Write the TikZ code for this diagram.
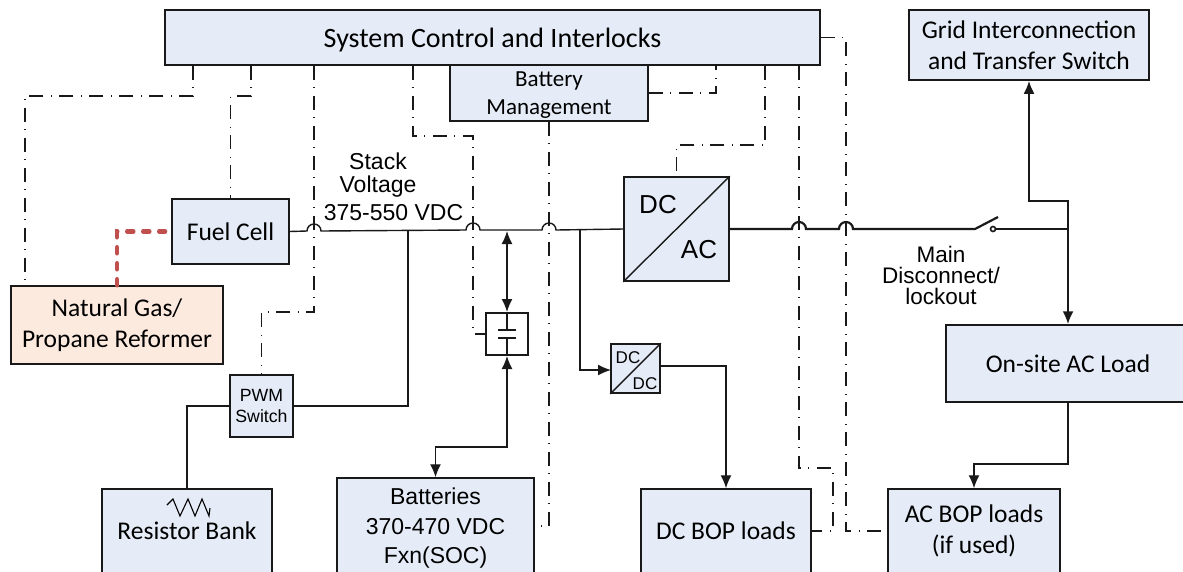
\documentclass[tikz,border=0pt]{standalone}
\usepackage{fontspec}
\setmainfont{Carlito}
\newfontfamily\arialfont{Liberation Sans}
\usetikzlibrary{arrows.meta}
\definecolor{boxblue}{HTML}{E5ECF7}
\definecolor{boxpeach}{HTML}{FCEADE}
\definecolor{gasred}{HTML}{C0504D}
\tikzset{
  block/.style={draw=black!90,line width=1.5pt,fill=boxblue,inner sep=0pt,align=center,font=\fontsize{25.5}{31}\selectfont},
  lbl/.style={inner sep=0pt,align=center,font=\arialfont\fontsize{23}{22.5}\selectfont},
  power/.style={line width=1.4pt,black!90},
  mainbus/.style={line width=2.2pt,black!90},
  ctrl/.style={line width=1.2pt,black!90,dash pattern=on 14pt off 7.5pt on 1pt off 7.5pt},
  gasline/.style={line width=4.5pt,gasred,line cap=round,dash pattern=on 6pt off 10pt},
  tip/.style={-{Latex[length=13pt,width=11pt]}},
  tips/.style={{Latex[length=13pt,width=11pt]}-{Latex[length=13pt,width=11pt]}}
}
\begin{document}
\begin{tikzpicture}[x=1pt,y=-1pt]
\useasboundingbox (0,0) rectangle (1183,571);
% blocks
\node[block,minimum width=655pt,minimum height=55pt,text depth=0pt,font=\fontsize{28}{30}\selectfont] (sys) at (492.5,37.5) {System Control and Interlocks};
\node[block,minimum width=240pt,minimum height=70pt] (grid) at (1029,45) {Grid Interconnection\\and Transfer Switch};
\node[block,minimum width=198pt,minimum height=56pt,text depth=0pt,font=\fontsize{23}{28}\selectfont] (bm) at (549,93) {Battery\\Management};
\node[block,minimum width=117pt,minimum height=65pt] (fuel) at (230.5,231.5) {Fuel Cell};
\node[block,fill=boxpeach,minimum width=212pt,minimum height=78pt] (reformer) at (117,325) {Natural Gas/\\Propane Reformer};
\node[block,minimum width=63pt,minimum height=62pt,font=\arialfont\fontsize{17.7}{21}\selectfont] (pwm) at (261.5,406) {PWM\\Switch};
\node[block,minimum width=170pt,minimum height=84pt] (resistor) at (187,531) {Resistor Bank};
\node[block,minimum width=197pt,minimum height=96pt,text depth=0pt,font=\arialfont\fontsize{23}{29.5}\selectfont] (batt) at (435.5,526) {Batteries\\370-470 VDC\\Fxn(SOC)};
\node[block,minimum width=170pt,minimum height=84pt] (dcbop) at (726,531) {DC BOP loads};
\node[block,minimum width=172pt,minimum height=84pt] (acbop) at (974,531) {AC BOP loads\\(if used)};
\node[block,minimum width=244pt,minimum height=77pt] (onsite) at (1068,363.5) {On-site AC Load};
\node[block,minimum width=105pt,minimum height=104pt] (dcac) at (676.5,229) {};
\node[block,minimum width=49pt,minimum height=49pt] (dcdc) at (635.5,368.5) {};
\node[draw=black!90,line width=2pt,fill=white,minimum width=42pt,minimum height=42pt,inner sep=0pt] (cap) at (507,334) {};
\node[draw=black!90,line width=1.6pt,circle,minimum size=5pt,inner sep=0pt] (contact) at (993,229) {};
% converter marks
\draw[power] (dcac.south west) -- (dcac.north east);
\draw[power] (dcdc.south west) -- (dcdc.north east);
\node[lbl,font=\arialfont\fontsize{26}{28}\selectfont] (dctext) at (658,205) {DC};
\node[lbl,font=\arialfont\fontsize{26}{28}\selectfont] (actext) at (699,250) {AC};
\node[lbl,font=\arialfont\fontsize{17}{19}\selectfont] (dcin) at (628,358) {DC};
\node[lbl,font=\arialfont\fontsize{17}{19}\selectfont] (dcout) at (645,384) {DC};
% labels
\node[lbl] (stack) at (378,175) {Stack\\Voltage};
\node[lbl] (range) at (393.5,213) {375-550 VDC};
\node[lbl,font=\arialfont\fontsize{22.5}{21}\selectfont] (disc) at (941,275) {Main\\Disconnect/\\lockout};
% resistor symbol
\draw[line width=1.1pt] (167,505) -- (173,499) -- (180,516) -- (188,499) -- (195,516) -- (202,499) -- (209,516) -- (210,508);
% bus points
\coordinate (hopa) at (307,231);
\coordinate (hopb) at (466,230);
\coordinate (hopc) at (542,230);
\coordinate (hopd) at (792,229);
\coordinate (hope) at (839,229);
\coordinate (pivot) at (975,229);
\coordinate (blade) at (998,217);
\coordinate (tee) at (1068,229);
\coordinate (teetop) at (1068,201);
\coordinate (gridbend) at (1029,201);
\coordinate (tapa) at (408,231);
\coordinate (tapb) at (507,231);
\coordinate (tapc) at (580,230);
% dc bus
\draw[power] (fuel.east) -- (hopa) arc[start angle=180,end angle=0,radius=7pt] -- (hopb) arc[start angle=180,end angle=0,radius=7pt] -- (hopc) arc[start angle=180,end angle=0,radius=7pt] -- (dcac.west);
% ac bus
\draw[mainbus] (dcac.east) -- (hopd) arc[start angle=180,end angle=0,radius=7pt] -- (hope) arc[start angle=180,end angle=0,radius=7pt] -- (pivot) -- (blade);
\draw[mainbus] (contact.east) -- (tee);
\draw[mainbus,tip] (tee) -- (onsite.north);
\draw[mainbus,tip] (tee) -- (teetop) -- (gridbend) -- (grid.south);
% power lines
\draw[power] (tapa) |- (pwm.east);
\draw[power] (pwm.west) -| (resistor.north);
\draw[power,tips] (tapb) -- (cap.north);
\coordinate (capbend) at (507,447);
\draw[power,tips] (cap.south) -- (capbend) -| (batt.north);
\coordinate (dcdcin) at (611,370);
\coordinate (dcdcout) at (660,366);
\coordinate (acbend) at (1068,464);
\draw[power,tip] (tapc) |- (dcdcin);
\draw[power,tip] (dcdcout) -| (dcbop.north);
\draw[power,tip] (onsite.south) -- (acbend) -| (acbop.north);
% capacitor
\coordinate (platea) at (507,330);
\coordinate (plateb) at (507,338);
\draw[power,line width=1.8pt] (cap.north) -- (platea);
\draw[power,line width=1.8pt] (plateb) -- (cap.south);
\draw[power,line width=1.8pt] (498,330) -- (516,330);
\draw[power,line width=1.8pt] (498,338) -- (516,338);
% gas feed
\coordinate (gasend) at (165,231.5);
\draw[gasline] (reformer.north) |- (gasend);
% control lines
\coordinate (gasa) at (193,96);
\coordinate (gasb) at (25,96);
\coordinate (fuela) at (251,96);
\coordinate (pwma) at (314,312);
\coordinate (capa) at (413,136);
\coordinate (capb) at (473,136);
\coordinate (bmtap) at (716,65);
\coordinate (acta) at (765,145);
\coordinate (bopa) at (799,468);
\coordinate (bopb) at (833,468);
\coordinate (bopc) at (846,300);
\draw[ctrl] (sys.south -| gasa) -- (gasa) -- (gasb) -- (reformer.north -| gasb);
\draw[ctrl] (sys.south -| fuela) -- (fuela) -| (fuel.north);
\draw[ctrl] (sys.south -| pwma) -- (pwma) -| (pwm.north);
\draw[ctrl] (sys.south -| capa) -- (capa) -- (capb) |- (cap.west);
\draw[ctrl] (bm.south) |- (batt.east);
\draw[ctrl] (bm.east) -| (bmtap);
\draw[ctrl] (sys.south -| acta) -- (acta) -| (dcac.north);
\draw[ctrl] (sys.south -| bopa) -- (bopa) -- (bopb) |- (dcbop.east);
\draw[ctrl] (sys.east) -| (bopc) |- (acbop.west);
\end{tikzpicture}
\end{document}
